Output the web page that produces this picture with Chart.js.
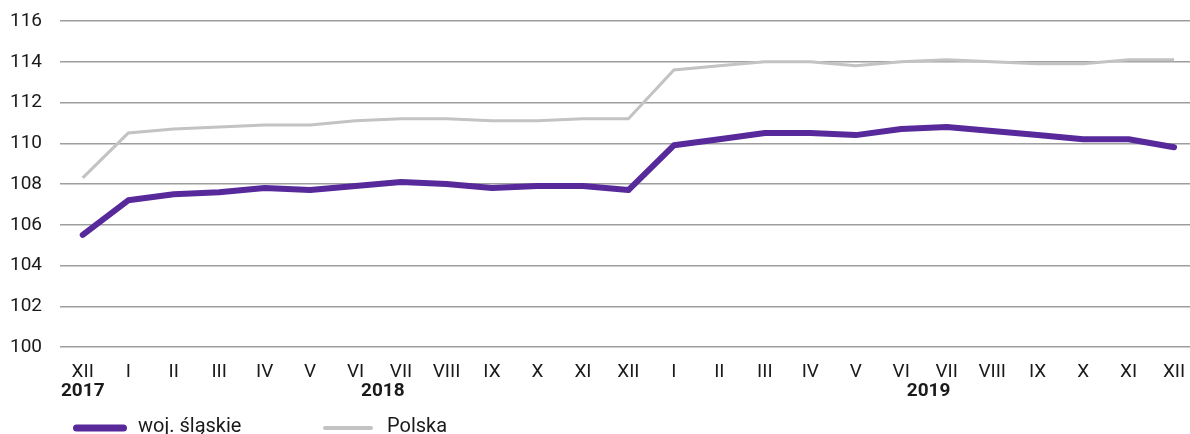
<!DOCTYPE html>
<html>
<head>
<meta charset="utf-8">
<script src="https://cdn.jsdelivr.net/npm/chart.js@4/dist/chart.umd.min.js"></script>
<style>
  html, body { margin: 0; padding: 0; background: #ffffff; }
  #wrap { position: relative; width: 1190px; height: 434px; }
</style>
</head>
<body>
<div id="wrap"><canvas id="chart"></canvas></div>
<script>
const months = ["XII", "I", "II", "III", "IV", "V", "VI", "VII", "VIII", "IX", "X", "XI", "XII",
  "I", "II", "III", "IV", "V", "VI", "VII", "VIII", "IX", "X", "XI", "XII"];
const years = ["2017", "2018", "2019"];
const slaskie = [105.5, 107.2, 107.5, 107.6, 107.8, 107.7, 107.9, 108.1, 108.0, 107.8, 107.9, 107.9, 107.7,
  109.9, 110.2, 110.5, 110.5, 110.4, 110.7, 110.8, 110.6, 110.4, 110.2, 110.2, 109.8];
const polska = [108.3, 110.5, 110.7, 110.8, 110.9, 110.9, 111.1, 111.2, 111.2, 111.1, 111.1, 111.2, 111.2,
  113.6, 113.8, 114.0, 114.0, 113.8, 114.0, 114.1, 114.0, 113.9, 113.9, 114.1, 114.1];
const seriesNames = ["woj. śląskie", "Polska"];

const FONT = "Roboto";
const TEXT = "#1a1a1a";
const PURPLE = "#57299a";
const GREY = "#c3c3c3";
// where the year captions sit on the month scale
const yearAt = [0, 6.6, 18.6];

const toPoints = (arr) => arr.map((v, i) => ({ x: i, y: v }));

// no extra room for overhanging tick labels
const noEdgePadding = (axis) => {
  axis.paddingLeft = 0;
  axis.paddingRight = 0;
  axis.paddingTop = 0;
  axis.paddingBottom = 0;
};

// legend drawn under the axis, two line samples with text
const bottomLegend = {
  id: "bottomLegend",
  afterDraw(chart) {
    const ctx = chart.ctx;
    const spots = [{ x: 73, w: 54, tx: 138 }, { x: 323, w: 50, tx: 387 }];
    chart.data.datasets.forEach((ds, i) => {
      const s = spots[i];
      const lw = ds.legendWidth;
      ctx.save();
      ctx.strokeStyle = ds.borderColor;
      ctx.lineWidth = lw;
      ctx.lineCap = "round";
      ctx.beginPath();
      ctx.moveTo(s.x + lw / 2, 428);
      ctx.lineTo(s.x + s.w - lw / 2, 428);
      ctx.stroke();
      ctx.fillStyle = TEXT;
      ctx.font = `20px ${FONT}`;
      ctx.textBaseline = "alphabetic";
      ctx.fillText(ds.label, s.tx, 432);
      ctx.restore();
    });
  },
};

new Chart(document.getElementById("chart"), {
  type: "line",
  data: {
    datasets: [
      {
        label: seriesNames[0],
        data: toPoints(slaskie),
        borderColor: PURPLE,
        borderWidth: 6,
        legendWidth: 7,
        pointRadius: 0,
        tension: 0,
        borderCapStyle: "round",
        borderJoinStyle: "round",
        order: 1,
      },
      {
        label: seriesNames[1],
        data: toPoints(polska),
        borderColor: GREY,
        borderWidth: 3,
        legendWidth: 4,
        pointRadius: 0,
        tension: 0,
        order: 2,
      },
    ],
  },
  options: {
    responsive: true,
    maintainAspectRatio: false,
    animation: false,
    layout: { padding: { top: 21, bottom: 33, left: 0, right: 0 } },
    plugins: {
      legend: { display: false },
      tooltip: { enabled: false },
    },
    scales: {
      x: {
        type: "linear",
        position: "bottom",
        min: -0.5,
        max: 24.35,
        grid: { display: false, drawTicks: false },
        border: { display: false },
        afterBuildTicks: (axis) => {
          axis.ticks = months.map((m, i) => ({ value: i }));
        },
        afterFit: (axis) => { axis.height = 30; noEdgePadding(axis); },
        ticks: {
          autoSkip: false,
          maxRotation: 0,
          padding: 14,
          color: TEXT,
          font: { family: FONT, size: 19 },
          callback: (v) => months[v],
        },
      },
      years: {
        type: "linear",
        position: "bottom",
        min: -0.5,
        max: 24.35,
        grid: { display: false, drawTicks: false },
        border: { display: false },
        afterBuildTicks: (axis) => {
          axis.ticks = yearAt.map((v) => ({ value: v }));
        },
        afterFit: (axis) => { axis.height = 24; noEdgePadding(axis); },
        ticks: {
          autoSkip: false,
          maxRotation: 0,
          padding: 3,
          color: TEXT,
          font: { family: FONT, size: 19, weight: "bold" },
          callback: (v) => years[yearAt.indexOf(v)],
        },
      },
      y: {
        min: 100,
        max: 116,
        grid: { color: "#9e9e9e", lineWidth: 1.5, drawTicks: false },
        border: { display: false },
        afterFit: (axis) => { axis.width = 60; noEdgePadding(axis); },
        ticks: {
          stepSize: 2,
          padding: 18,
          color: TEXT,
          font: { family: FONT, size: 19 },
        },
      },
    },
  },
  plugins: [bottomLegend],
});
</script>
</body>
</html>
